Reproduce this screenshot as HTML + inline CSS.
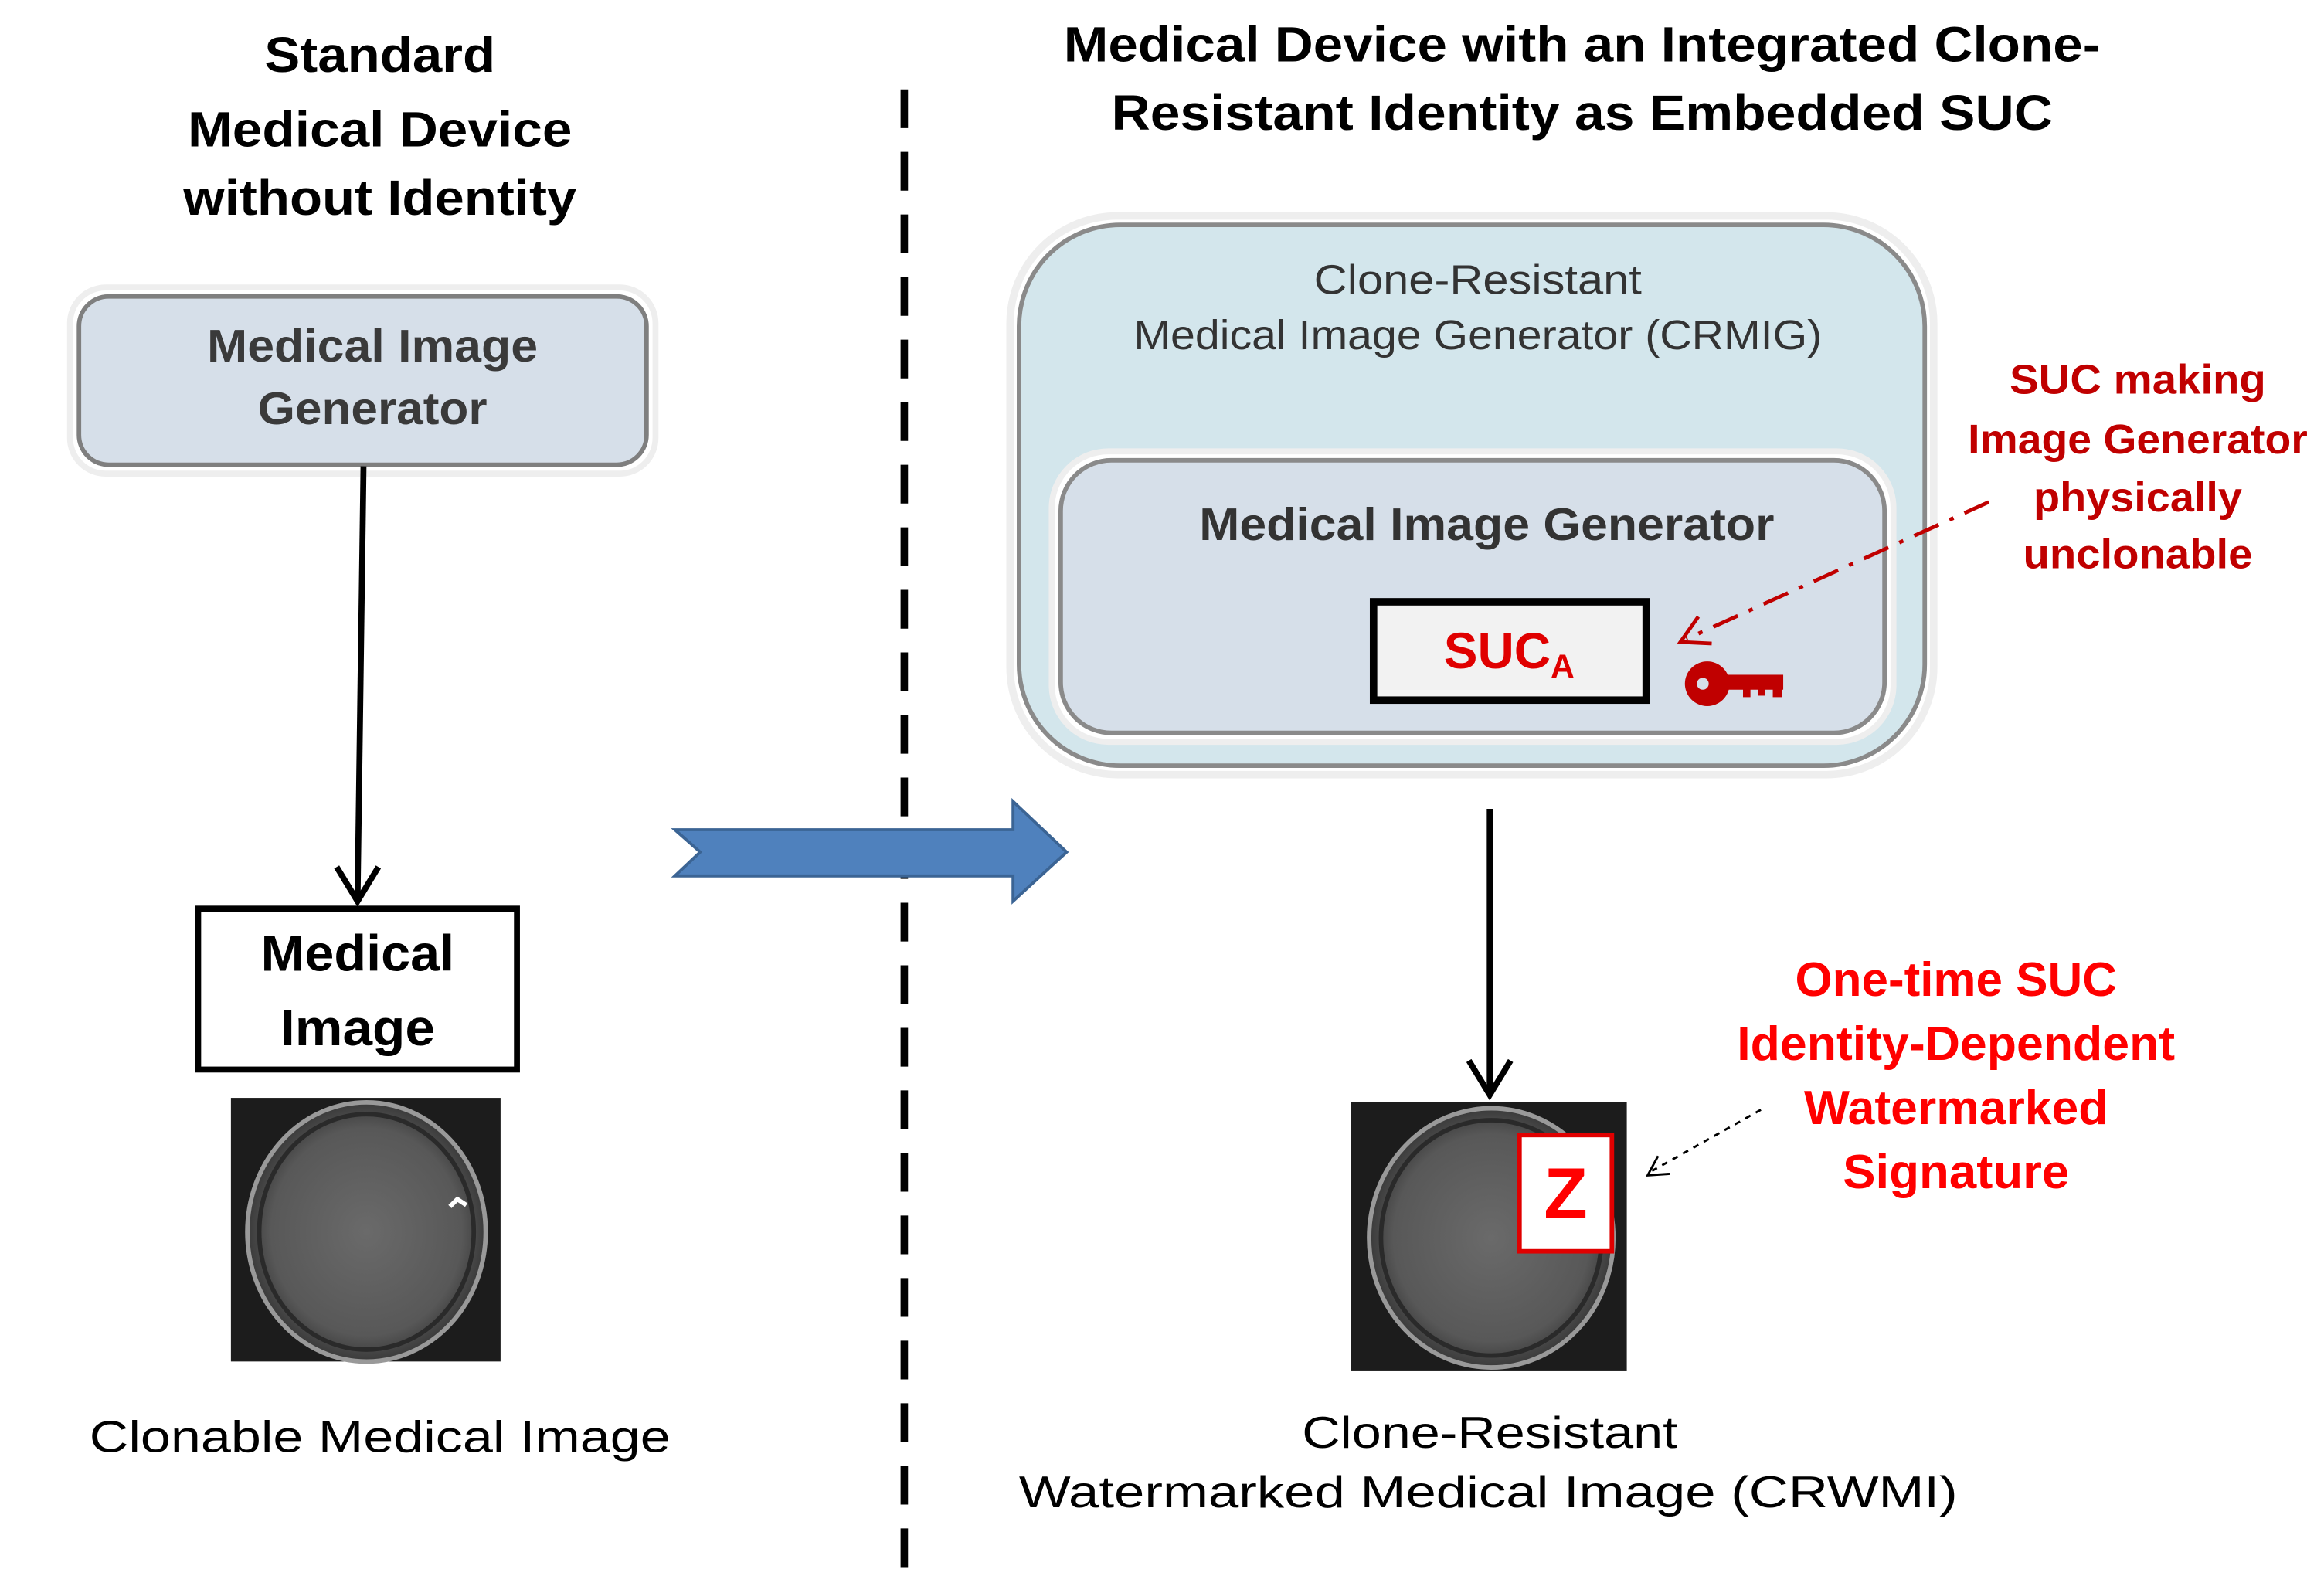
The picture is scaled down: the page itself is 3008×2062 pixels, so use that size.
<!DOCTYPE html>
<html><head><meta charset="utf-8"><style>html,body{margin:0;padding:0;background:#fff}svg{display:block}</style></head>
<body>
<svg width="3008" height="2062" viewBox="0 0 1560 1069.4" xmlns="http://www.w3.org/2000/svg" font-family="Liberation Sans, sans-serif">
<defs>
<radialGradient id="br" cx="0.5" cy="0.5" r="0.5"><stop offset="0" stop-color="#6a6a6a"/><stop offset="0.8" stop-color="#585858"/><stop offset="1" stop-color="#3a3a3a"/></radialGradient>
</defs>
<g text-anchor="middle" dominant-baseline="central" font-weight="bold" fill="#000" font-size="33">
<text x="255" y="37" textLength="155" lengthAdjust="spacingAndGlyphs">Standard</text>
<text x="255" y="87" textLength="258" lengthAdjust="spacingAndGlyphs">Medical Device</text>
<text x="255" y="133" textLength="264" lengthAdjust="spacingAndGlyphs">without Identity</text>
<text x="1062" y="30" textLength="696" lengthAdjust="spacingAndGlyphs">Medical Device with an Integrated Clone-</text>
<text x="1062" y="76" textLength="632" lengthAdjust="spacingAndGlyphs">Resistant Identity as Embedded SUC</text>
</g>
<rect x="47" y="193" width="393" height="125" rx="24" fill="#fff" stroke="#eee" stroke-width="4"/>
<rect x="53" y="199" width="381" height="113" rx="20" fill="#d6dfe9" stroke="#7f7f7f" stroke-width="3"/>
<g text-anchor="middle" dominant-baseline="central" font-weight="bold" fill="#3a3a3a" font-size="31">
<text x="250" y="232" textLength="222" lengthAdjust="spacingAndGlyphs">Medical Image</text>
<text x="250" y="274" textLength="154" lengthAdjust="spacingAndGlyphs">Generator</text>
</g>
<line x1="244" y1="313" x2="240" y2="604" stroke="#000" stroke-width="4"/>
<polyline points="226,582 240,605 254,582" fill="none" stroke="#000" stroke-width="4"/>
<rect x="133" y="610" width="214" height="108" fill="#fff" stroke="#000" stroke-width="4"/>
<g text-anchor="middle" dominant-baseline="central" font-weight="bold" fill="#000" font-size="34">
<text x="240" y="640" textLength="130" lengthAdjust="spacingAndGlyphs">Medical</text>
<text x="240" y="690" textLength="104" lengthAdjust="spacingAndGlyphs">Image</text>
</g>
<rect x="155" y="737" width="181" height="177" fill="#1c1c1c"/>
<ellipse cx="246" cy="827" rx="80" ry="87" fill="url(#br)" stroke="#999" stroke-width="3"/>
<ellipse cx="246" cy="827" rx="72" ry="79" fill="none" stroke="#2a2a2a" stroke-width="3"/>
<path d="M302,810 l5,-5 l6,4" stroke="#fff" stroke-width="3" fill="none"/>
<text x="255" y="965" text-anchor="middle" dominant-baseline="central" font-size="30" fill="#000" textLength="390" lengthAdjust="spacingAndGlyphs">Clonable Medical Image</text>
<line x1="607" y1="60" x2="607" y2="1065" stroke="#000" stroke-width="5" stroke-dasharray="26,16"/>
<polygon points="453,557 680,557 680,538 716,572 680,605 680,588 453,588 470,572" fill="#4f81bd" stroke="#3b6494" stroke-width="2"/>
<rect x="678" y="145" width="620" height="375" rx="72" fill="#fff" stroke="#eee" stroke-width="5"/>
<rect x="684" y="151" width="608" height="363" rx="68" fill="#d3e6ec" stroke="#8a8a8a" stroke-width="3"/>
<g text-anchor="middle" dominant-baseline="central" fill="#333" font-size="28">
<text x="992" y="188" textLength="220" lengthAdjust="spacingAndGlyphs">Clone-Resistant</text>
<text x="992" y="225" textLength="462" lengthAdjust="spacingAndGlyphs">Medical Image Generator (CRMIG)</text>
</g>
<rect x="706" y="303" width="565" height="195" rx="38" fill="#fff" stroke="#eee" stroke-width="4"/>
<rect x="712" y="309" width="553" height="183" rx="34" fill="#d6dfe9" stroke="#8a8a8a" stroke-width="3"/>
<text x="998" y="352" text-anchor="middle" dominant-baseline="central" font-weight="bold" fill="#333" font-size="31" textLength="386" lengthAdjust="spacingAndGlyphs">Medical Image Generator</text>
<rect x="922" y="404" width="183" height="66" fill="#f2f2f2" stroke="#000" stroke-width="5"/>
<text x="1013" y="437" text-anchor="middle" dominant-baseline="central" font-weight="bold" fill="#e00000" font-size="34">SUC<tspan font-size="22" dy="10">A</tspan></text>
<g fill="#c00000">
<circle cx="1146" cy="459" r="15"/>
<circle cx="1143" cy="459" r="4" fill="#d6dfe9"/>
<rect x="1155" y="453" width="42" height="10"/>
<rect x="1170" y="462" width="5" height="6"/><rect x="1180" y="462" width="5" height="5"/><rect x="1190" y="462" width="6" height="6"/>
</g>
<line x1="1335" y1="337" x2="1132" y2="429" stroke="#c00000" stroke-width="2.5" stroke-dasharray="18,8,3,8"/>
<polyline points="1140,414 1128,431 1149,432" fill="none" stroke="#c00000" stroke-width="2.5"/>
<g text-anchor="middle" dominant-baseline="central" font-weight="bold" fill="#c00000" font-size="28">
<text x="1435" y="255" textLength="172" lengthAdjust="spacingAndGlyphs">SUC making</text>
<text x="1435" y="295" textLength="228" lengthAdjust="spacingAndGlyphs">Image Generator</text>
<text x="1435" y="334" textLength="140" lengthAdjust="spacingAndGlyphs">physically</text>
<text x="1435" y="372" textLength="154" lengthAdjust="spacingAndGlyphs">unclonable</text>
</g>
<line x1="1000" y1="543" x2="1000" y2="733" stroke="#000" stroke-width="4"/>
<polyline points="986,712 1000,735 1014,712" fill="none" stroke="#000" stroke-width="4"/>
<rect x="907" y="740" width="185" height="180" fill="#1c1c1c"/>
<ellipse cx="1001" cy="831" rx="82" ry="87" fill="url(#br)" stroke="#999" stroke-width="3"/>
<ellipse cx="1001" cy="831" rx="74" ry="79" fill="none" stroke="#2a2a2a" stroke-width="3"/>
<rect x="1020" y="762" width="62" height="78" fill="#fff" stroke="#e00000" stroke-width="3"/>
<text x="1051" y="801" text-anchor="middle" dominant-baseline="central" font-weight="bold" fill="#ff0000" font-size="48">Z</text>
<line x1="1182" y1="745" x2="1109" y2="786" stroke="#000" stroke-width="1.5" stroke-dasharray="4,4"/>
<polyline points="1113,776 1106,789 1121,788" fill="none" stroke="#000" stroke-width="1.5"/>
<g text-anchor="middle" dominant-baseline="central" font-weight="bold" fill="#ff0000" font-size="32">
<text x="1313" y="658" textLength="216" lengthAdjust="spacingAndGlyphs">One-time SUC</text>
<text x="1313" y="701" textLength="294" lengthAdjust="spacingAndGlyphs">Identity-Dependent</text>
<text x="1313" y="744" textLength="204" lengthAdjust="spacingAndGlyphs">Watermarked</text>
<text x="1313" y="787" textLength="152" lengthAdjust="spacingAndGlyphs">Signature</text>
</g>
<g text-anchor="middle" dominant-baseline="central" fill="#000" font-size="30">
<text x="1000" y="962" textLength="252" lengthAdjust="spacingAndGlyphs">Clone-Resistant</text>
<text x="999" y="1002" textLength="630" lengthAdjust="spacingAndGlyphs">Watermarked Medical Image (CRWMI)</text>
</g>
</svg>
</body></html>
